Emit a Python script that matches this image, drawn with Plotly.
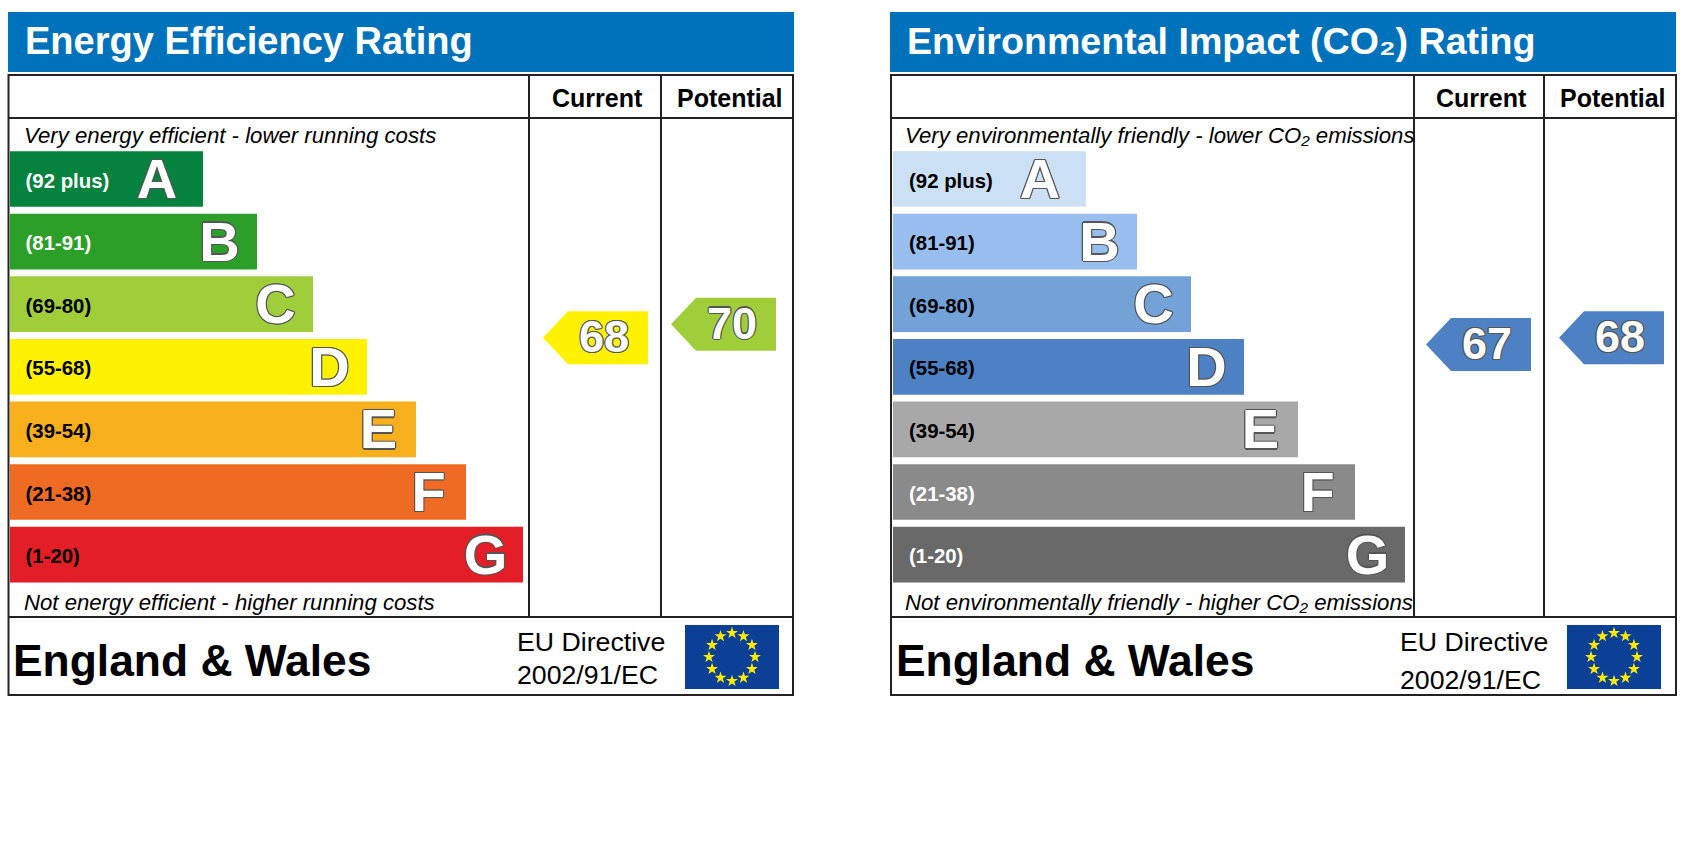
import numpy as np
import plotly.graph_objects as go

# ---- data ----
letters = ["A", "B", "C", "D", "E", "F", "G"]
bands = ["(92 plus)", "(81-91)", "(69-80)", "(55-68)", "(39-54)", "(21-38)", "(1-20)"]
energy_lengths = [193, 247, 303, 357, 406, 456, 513]
co2_lengths = [193, 244, 298, 351, 405, 462, 512]
energy_colors = ["#05823E", "#2C9F29", "#A0CD3A", "#FFF200", "#F8AF1C", "#EF6B24", "#E31E26"]
co2_colors = ["#CBE0F4", "#97BEEE", "#72A2D8", "#4D81C3", "#A8A8A8", "#8A8A8A", "#696969"]
energy_label_colors = ["white", "white", "black", "black", "black", "black", "black"]
co2_label_colors = ["black", "black", "black", "black", "black", "white", "white"]
energy_ratings = [68, 70]
co2_ratings = [67, 68]
energy_title = "Energy Efficiency Rating"
co2_title = "Environmental Impact (CO\u2082) Rating"
col_titles = ["Current", "Potential"]
energy_top = "Very energy efficient - lower running costs"
energy_bottom = "Not energy efficient - higher running costs"
co2_top = "Very environmentally friendly - lower CO\u2082 emissions"
co2_bottom = "Not environmentally friendly - higher CO\u2082 emissions"
region = "England &amp; Wales"
directive = ["EU Directive", "2002/91/EC"]

# ---- page geometry / scales ----
W, H = 1683, 850
FONT = "Liberation Sans"
OUTLINE = "#555"
SHADOW = ", ".join(f"{dx}px {dy}px 0 {OUTLINE}" for dx, dy in
                   [(1.2, 0), (-1.2, 0), (0, 1.2), (0, -1.2), (0.8, 0.8), (-0.8, 0.8), (0.8, -0.8), (-0.8, -0.8)])

# band index axis (y2): row i sits at pixel 179 + 62.6 i
band_y0, band_step = 179.0, 62.6
band_range = [(H - band_y0) / band_step, -band_y0 / band_step]
# rating axis (y3): rating r sits at pixel 337.8 - 6.8 (r - 68)
rate_y0, rate_step = 337.8, 6.8
rate_range = [68 - (H - rate_y0) / rate_step, 68 + rate_y0 / rate_step]

panels = [
    dict(x0=8.5, x1=793, c1=529, c2=661, bar0=10, lengths=energy_lengths, colors=energy_colors,
         labcol=energy_label_colors, ratings=energy_ratings, title=energy_title, top=energy_top,
         bottom=energy_bottom, head=(8, 794), arrow_fill=[energy_colors[3], energy_colors[2]],
         arrow_right=[648, 776], dirx=515, flag=(685, 779), lab_x=25.5, top_x=22, bot_x=22,
         dir2_y=675, title_size=38),
    dict(x0=891, x1=1676, c1=1414, c2=1544, bar0=893, lengths=co2_lengths, colors=co2_colors,
         labcol=co2_label_colors, ratings=co2_ratings, title=co2_title, top=co2_top,
         bottom=co2_bottom, head=(890, 1676), arrow_fill=[co2_colors[3], co2_colors[3]],
         arrow_right=[1531, 1664], dirx=1398, flag=(1567, 1661), lab_x=909, top_x=903, bot_x=903,
         dir2_y=680, title_size=37.6),
]

fig = go.Figure()
shapes, annotations = [], []
LINE = dict(color="#222222", width=2)


def note(x, y, text, size, color="black", bold=False, italic=False, anchor="left"):
    annotations.append(dict(
        x=x, y=y, xref="x", yref="y", text=f"<b>{text}</b>" if bold else text, showarrow=False,
        xanchor=anchor, yanchor="middle", align="left",
        font=dict(family=FONT, size=size, color=color, style="italic" if italic else "normal"),
    ))


for p in panels:
    # header strip and frame
    shapes.append(dict(type="rect", x0=p["head"][0], x1=p["head"][1], y0=12, y1=72,
                       fillcolor="#0072BC", line_width=0, layer="below"))
    shapes.append(dict(type="rect", x0=p["x0"], x1=p["x1"], y0=75, y1=695, line=LINE, layer="below"))
    for (a, b, c, d) in [(p["x0"], 118, p["x1"], 118), (p["x0"], 617, p["x1"], 617),
                         (p["c1"], 75, p["c1"], 617), (p["c2"], 75, p["c2"], 617)]:
        shapes.append(dict(type="line", x0=a, y0=b, x1=c, y1=d, line=LINE, layer="below"))
    note(p["head"][0] + 15, 41, p["title"], p["title_size"], color="white", bold=True)
    note((p["c1"] + p["c2"]) / 2 + 2, 98, col_titles[0], 25, bold=True, anchor="center")
    note((p["c2"] + p["x1"]) / 2 + 3, 98, col_titles[1], 25, bold=True, anchor="center")
    note(p["top_x"], 135.5, p["top"], 22.2, italic=True)
    note(p["bot_x"], 602.5, p["bottom"], 22.2, italic=True)
    note(p["x0"] + 2.5, 660, region, 44.4, bold=True)
    note(p["dirx"], 642, directive[0], 26.7)
    note(p["dirx"], p["dir2_y"], directive[1], 26.7)

    # rating bars
    idx = list(range(len(letters)))
    fig.add_trace(go.Bar(
        y=idx, x=p["lengths"], base=p["bar0"], orientation="h", width=0.89,
        marker=dict(color=p["colors"], line_width=0), yaxis="y2", hoverinfo="skip",
    ))
    fig.add_trace(go.Scatter(
        x=[p["lab_x"]] * 7, y=[i + 0.055 for i in idx], mode="text", text=[f"<b>{b}</b>" for b in bands],
        textposition="middle right", yaxis="y2", hoverinfo="skip",
        textfont=dict(family=FONT, size=20.4, color=p["labcol"]),
    ))
    ends = [p["bar0"] + v for v in p["lengths"]]
    pads = [46 if l == "A" else 37.5 for l in letters]
    fig.add_trace(go.Scatter(
        x=[e - d for e, d in zip(ends, pads)], y=[i + 0.08 for i in idx], mode="text",
        text=[f"<b>{l}</b>" for l in letters],
        textposition="middle center", yaxis="y2", hoverinfo="skip",
        textfont=dict(family=FONT, size=56, color="white", shadow=SHADOW),
    ))

    # rating arrows
    half = 26.5 / rate_step
    for rating, fill, right in zip(p["ratings"], p["arrow_fill"], p["arrow_right"]):
        tip, shoulder = right - 105, right - 80
        fig.add_trace(go.Scatter(
            x=[tip, shoulder, right, right, shoulder, tip],
            y=[rating, rating + half, rating + half, rating - half, rating - half, rating],
            mode="lines", fill="toself", fillcolor=fill, line_width=0, yaxis="y3", hoverinfo="skip",
        ))
        fig.add_trace(go.Scatter(
            x=[right - 44], y=[rating - 0.45], mode="text", text=[f"<b>{rating}</b>"],
            textposition="middle center", yaxis="y3", hoverinfo="skip",
            textfont=dict(family=FONT, size=45, color="white", shadow=SHADOW),
        ))

    # EU flag
    shapes.append(dict(type="rect", x0=p["flag"][0], x1=p["flag"][1], y0=625, y1=689,
                       fillcolor="#0B4096", line_width=0, layer="below"))
    cx = sum(p["flag"]) / 2
    ang = np.arange(12) * np.pi / 6
    fig.add_trace(go.Scatter(
        x=cx + 23 * np.cos(ang), y=657 + 24 * np.sin(ang), mode="markers", hoverinfo="skip",
        marker=dict(symbol="star", size=9, color="#FFEC00", line_width=0),
    ))

ax = dict(visible=False, fixedrange=True)
fig.update_layout(
    width=W, height=H, margin=dict(l=0, r=0, t=0, b=0), paper_bgcolor="white", plot_bgcolor="white",
    showlegend=False, barmode="overlay", shapes=shapes, annotations=annotations,
    xaxis=dict(range=[0, W], domain=[0, 1], **ax),
    yaxis=dict(range=[H, 0], domain=[0, 1], **ax),
    yaxis2=dict(range=band_range, domain=[0, 1], overlaying="y", anchor="x", **ax),
    yaxis3=dict(range=rate_range, domain=[0, 1], overlaying="y", anchor="x", **ax),
)
fig.write_html("out.html", config={"displayModeBar": False},
               post_script="document.body.style.margin='0';document.body.style.overflow='hidden';")
